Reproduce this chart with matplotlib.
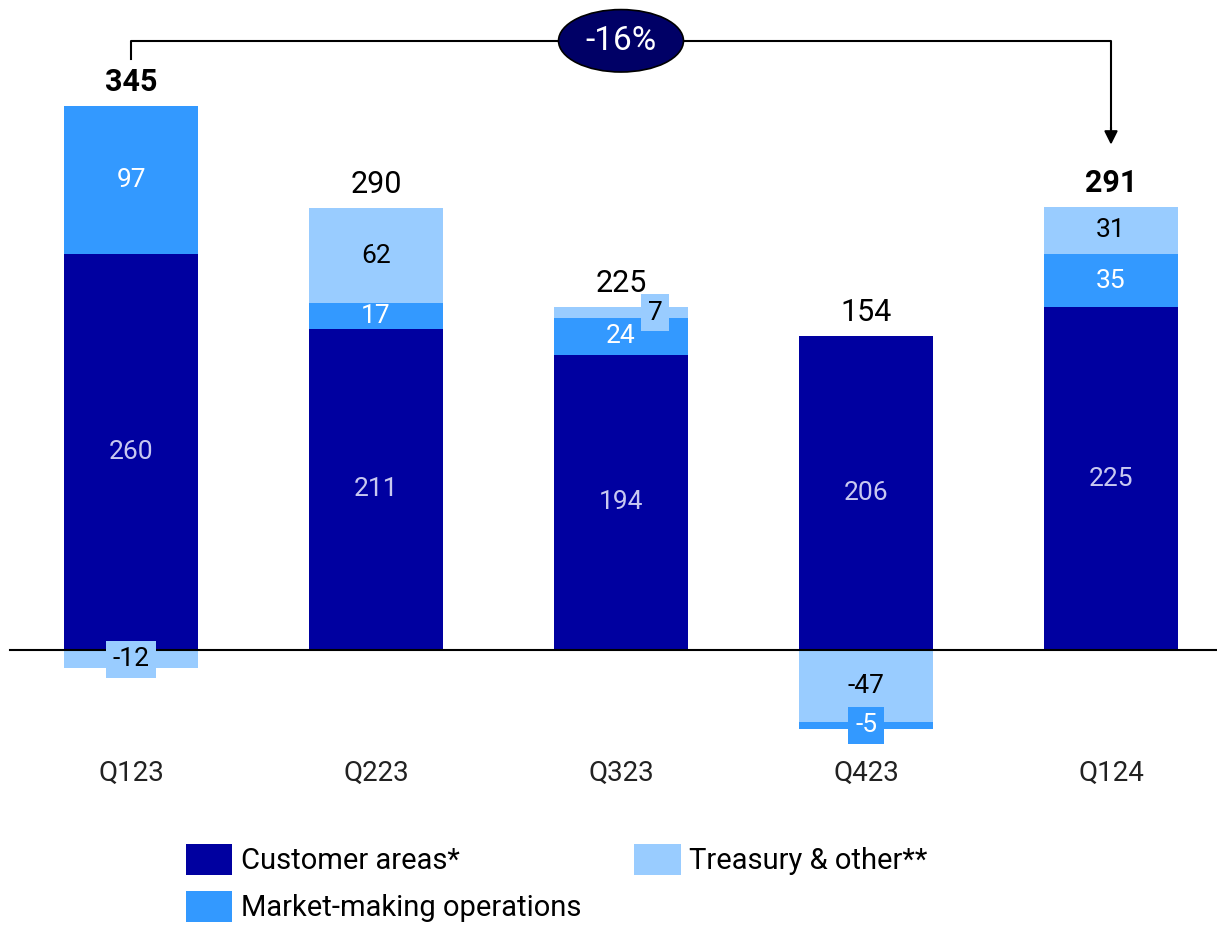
import matplotlib.pyplot as plt
from matplotlib.patches import Ellipse
import numpy as np

plt.rcParams['font.family'] = ['Roboto', 'DejaVu Sans']

quarters = ['Q123', 'Q223', 'Q323', 'Q423', 'Q124']
customer = [260, 211, 194, 206, 225]
market = [97, 17, 24, -5, 35]
treasury = [-12, 62, 7, -47, 31]
totals = [345, 290, 225, 154, 291]
bold_totals = [True, False, False, False, True]
change_label = '-16%'

c_cust = '#0000A0'
c_mkt = '#3399FF'
c_tre = '#99CCFF'

fig = plt.figure(figsize=(12.17, 9.27), dpi=100)
ax = fig.add_axes([0, 0, 1, 1])
x = np.arange(len(quarters))
w = 0.55

# positives stack customer, market, treasury; negatives stack treasury then market
pos_base = np.zeros(len(x))
neg_base = np.zeros(len(x))
seg_info = []
for vals, col, sign in [(customer, c_cust, 1), (market, c_mkt, 1), (treasury, c_tre, 1),
                        (customer, c_cust, -1), (treasury, c_tre, -1), (market, c_mkt, -1)]:
    vals = np.array(vals, dtype=float)
    if sign > 0:
        part = np.where(vals >= 0, vals, 0)
        bottoms = pos_base.copy()
        pos_base = pos_base + part
    else:
        part = np.where(vals < 0, vals, 0)
        bottoms = neg_base.copy()
        neg_base = neg_base + part
    ax.bar(x, part, w, bottom=bottoms, color=col, edgecolor='none', zorder=2)
    seg_info.append((part, bottoms, col))

txt_col = {c_cust: '#C8C8F0', c_mkt: 'white', c_tre: 'black'}
for vals, bottoms, col in seg_info:
    for i, v in enumerate(vals):
        if v == 0:
            continue
        cy = bottoms[i] + v / 2
        cx = x[i]
        kw = {}
        if abs(v) < 15:
            kw['bbox'] = dict(boxstyle='square,pad=0.25', fc=col, ec='none')
            if v > 0:
                cx = x[i] + 0.14
        ax.text(cx, cy, f'{int(v)}', ha='center', va='center', fontsize=19,
                color=txt_col[col], zorder=4, **kw)

for i, t in enumerate(totals):
    ax.text(x[i], pos_base[i] + 6, str(t), ha='center', va='bottom', fontsize=22,
            fontweight='bold' if bold_totals[i] else 'normal', color='black')

for i, q in enumerate(quarters):
    ax.text(x[i], -81, q, ha='center', va='center', fontsize=20, color='#222222')

ax.axhline(0, xmin=10 / 1217, xmax=1, color='black', lw=1.5, zorder=3)

# bracket with arrow
ytop = 400
ax.plot([x[0], x[0], x[-1], x[-1]], [388, ytop, ytop, 335], color='black', lw=1.5, zorder=1)
ax.annotate('', xy=(x[-1], 330), xytext=(x[-1], 345),
            arrowprops=dict(arrowstyle='-|>', color='black', lw=1.5, mutation_scale=20))
cx = (x[0] + x[-1]) / 2
ax.add_patch(Ellipse((cx, ytop), 0.51, 41, fc='#000066', ec='black', lw=1.2, zorder=5))
ax.text(cx, ytop, change_label, ha='center', va='center', fontsize=24,
        color='white', zorder=6)

ax.set_xlim(-131 / 245, (1217 - 131) / 245)
ax.set_ylim(-(927 - 650) / 1.523, 650 / 1.523)
ax.axis('off')

handles = [plt.Rectangle((0, 0), 1, 1, fc=c) for c in (c_cust, c_mkt, c_tre)]
labels = ['Customer areas*', 'Market-making operations', 'Treasury & other**']
fig.legend(handles, labels, ncol=2, loc='upper left', bbox_to_anchor=(174 / 1217, 1 - 832 / 927),
           frameon=False, fontsize=21, handlelength=1.6, handleheight=1.25,
           handletextpad=0.3, columnspacing=1.8, labelspacing=0.55, borderaxespad=0)

fig.savefig('out.png', dpi=100)
